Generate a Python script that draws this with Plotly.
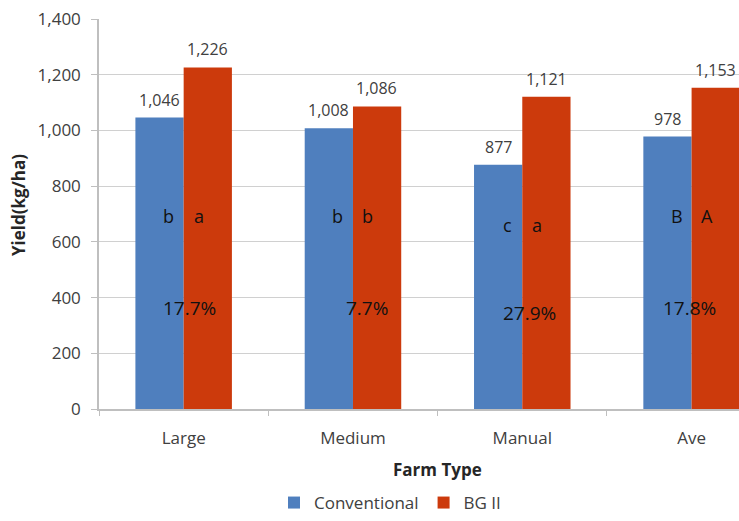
import plotly.graph_objects as go

# Seed-cotton yield by farm type
farm_types = ["Large", "Medium", "Manual", "Ave"]
conventional = [1046, 1008, 877, 978]
bg2 = [1226, 1086, 1121, 1153]
conv_letters = ["b", "b", "c", "B"]
bg2_letters = ["a", "b", "a", "A"]
gain_labels = ["17.7%", "7.7%", "27.9%", "17.8%"]

BLUE = "#4F7FBE"
RED = "#CC3A0C"
FONT = "Open Sans"

# plot-area geometry in pixels
W, H = 739, 521
ML, MT, MB = 99, 19, 112
PW, PH = 640, H - MT - MB


def px_to_paper(px, py):
    return (px - ML) / PW, (H - MB - py) / PH


fig = go.Figure()
fig.add_bar(name="Conventional", x=farm_types, y=conventional,
            marker=dict(color=BLUE, line=dict(width=0)))
fig.add_bar(name="BG II", x=farm_types, y=bg2,
            marker=dict(color=RED, line=dict(width=0)))

annotations = []
# value labels above each bar
for cat, cv, bv in zip(farm_types, conventional, bg2):
    for val, dx in ((cv, -24), (bv, 24)):
        annotations.append(dict(
            x=cat, y=val, xref="x", yref="y", text=f"{val:,}",
            showarrow=False, xshift=dx, yshift=5, yanchor="bottom",
            font=dict(family=FONT, size=16, color="#404040")))

# significance letters and percentage gain inside bars
letter_rows = {"Manual": 660}
gain_rows = {"Manual": 345}
gain_dx = {"Large": 6, "Medium": 14, "Manual": 7, "Ave": -2}
for cat, lc, lb, g in zip(farm_types, conv_letters, bg2_letters, gain_labels):
    ly = letter_rows.get(cat, 693)
    for txt, dx in ((lc, -15), (lb, 15)):
        annotations.append(dict(
            x=cat, y=ly, xref="x", yref="y", text=txt, showarrow=False,
            xshift=dx, font=dict(family=FONT, size=18, color="#111111")))
    annotations.append(dict(
        x=cat, y=gain_rows.get(cat, 362), xref="x", yref="y", text=g,
        showarrow=False, xshift=gain_dx[cat],
        font=dict(family=FONT, size=19, color="#111111")))

# axis titles
tx, ty = px_to_paper(18, 205)
annotations.append(dict(
    x=tx, y=ty, xref="paper", yref="paper", xanchor="center", yanchor="middle",
    text="<b>Yield(kg/ha)</b>", textangle=-90, showarrow=False,
    font=dict(family=FONT, size=17, color="#262626")))
tx, ty = px_to_paper(437, 470)
annotations.append(dict(
    x=tx, y=ty, xref="paper", yref="paper", xanchor="center", yanchor="middle",
    text="<b>Farm Type</b>", showarrow=False,
    font=dict(family=FONT, size=17, color="#262626")))

fig.update_layout(
    width=W, height=H,
    margin=dict(l=ML, r=0, t=MT, b=MB),
    paper_bgcolor="white", plot_bgcolor="white",
    barmode="group", bargap=0.43, bargroupgap=0,
    font=dict(family=FONT, color="#404040"),
    showlegend=True,
    legend=dict(orientation="h", xref="container", yref="container",
                x=390 / W, xanchor="center",
                y=-0.012, yanchor="bottom",
                font=dict(family=FONT, size=17, color="#404040"),
                itemsizing="constant", traceorder="normal"),
    annotations=annotations,
)

fig.update_xaxes(
    type="category", range=[-0.5, 3.28],
    showline=True, linecolor="#BFBFBF", linewidth=1.5,
    ticks="outside", tickson="boundaries", ticklen=5, tickcolor="#BFBFBF",
    showgrid=False, ticklabelstandoff=13, automargin=False,
    tickfont=dict(family=FONT, size=17, color="#404040"),
)
fig.update_yaxes(
    range=[0, 1400], dtick=200, tickformat=",d",
    showline=True, linecolor="#BFBFBF", linewidth=1.5,
    ticks="outside", ticklen=6, tickcolor="#BFBFBF",
    showgrid=True, gridcolor="#D0D0D0", gridwidth=1.2,
    zeroline=False, ticklabelstandoff=7, automargin=False,
    tickfont=dict(family=FONT, size=17, color="#404040"),
)

fig.write_html("out.html")
